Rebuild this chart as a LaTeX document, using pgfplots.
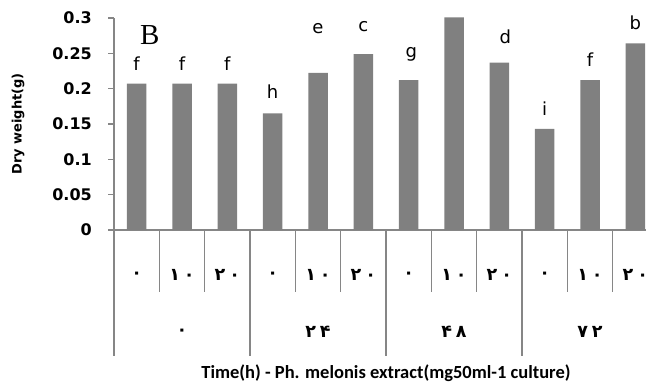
\documentclass[border=0pt]{standalone}
\usepackage{pgfplots}
\pgfplotsset{compat=1.18}
\usepackage{fontspec}
\setmainfont{DejaVu Sans}
\newfontfamily\calib{Carlito}
\newfontfamily\arabicfont[Script=Arabic]{DejaVu Sans}
\newfontfamily\serifB{Liberation Serif}
\definecolor{bargray}{RGB}{128,128,128}
\definecolor{axgray}{RGB}{134,134,134}
\newcommand{\ar}[2]{#1\hspace{4bp}#2}
\begin{document}
\begin{tikzpicture}
\begin{axis}[
  at={(114bp,155bp)}, anchor=south west,
  scale only axis, width=544bp, height=212bp,
  xmin=-0.5, xmax=11.5, ymin=0, ymax=0.3,
  axis lines=left,
  axis line style={-, draw=axgray, line width=1.3bp},
  ytick={0,0.05,0.1,0.15,0.2,0.25,0.3},
  yticklabels={},
  tick align=outside, major tick length=6bp,
  ytick style={draw=axgray, line width=1.3bp},
  xtick={0,1,2,3,4,5,6,7,8,9,10,11},
  xticklabels={۰,\ar{۱}{۰},\ar{۲}{۰},۰,\ar{۱}{۰},\ar{۲}{۰},۰,\ar{۱}{۰},\ar{۲}{۰},۰,\ar{۱}{۰},\ar{۲}{۰}},
  xtick style={draw=none},
  xticklabel style={font=\arabicfont\bfseries\fontsize{17.5bp}{19bp}\selectfont, anchor=center, yshift=-39bp},
  clip=false,
  ybar, bar width=19.5bp,
]
\addplot[fill=bargray, draw=none] coordinates {
(0,0.207) (1,0.207) (2,0.207) (3,0.165) (4,0.2225) (5,0.249)
(6,0.212) (7,0.301) (8,0.237) (9,0.143) (10,0.212) (11,0.264)};

% y tick labels
\begin{scope}[every node/.style={anchor=east, inner sep=0pt, font=\bfseries\fontsize{16bp}{18bp}\selectfont}]
\node at ([xshift=-22bp]axis cs:-0.5,0) {0};
\node at ([xshift=-22bp]axis cs:-0.5,0.05) {0.05};
\node at ([xshift=-22bp]axis cs:-0.5,0.1) {0.1};
\node at ([xshift=-22bp]axis cs:-0.5,0.15) {0.15};
\node at ([xshift=-22bp]axis cs:-0.5,0.2) {0.2};
\node at ([xshift=-22bp]axis cs:-0.5,0.25) {0.25};
\node at ([xshift=-22bp]axis cs:-0.5,0.3) {0.3};
\end{scope}

% dividers below the axis
\draw[axgray, line width=1.3bp] (axis cs:-0.5,0) -- ++(0pt,-126bp);
\draw[axgray, line width=1.3bp] (axis cs:2.5,0) -- ++(0pt,-126bp);
\draw[axgray, line width=1.3bp] (axis cs:5.5,0) -- ++(0pt,-126bp);
\draw[axgray, line width=1.3bp] (axis cs:8.5,0) -- ++(0pt,-126bp);
\draw[axgray, line width=1.3bp] (axis cs:11.5,0) -- ++(0pt,-126bp);
\draw[axgray, line width=1.3bp] (axis cs:0.5,0) -- ++(0pt,-62bp);
\draw[axgray, line width=1.3bp] (axis cs:1.5,0) -- ++(0pt,-62bp);
\draw[axgray, line width=1.3bp] (axis cs:3.5,0) -- ++(0pt,-62bp);
\draw[axgray, line width=1.3bp] (axis cs:4.5,0) -- ++(0pt,-62bp);
\draw[axgray, line width=1.3bp] (axis cs:6.5,0) -- ++(0pt,-62bp);
\draw[axgray, line width=1.3bp] (axis cs:7.5,0) -- ++(0pt,-62bp);
\draw[axgray, line width=1.3bp] (axis cs:9.5,0) -- ++(0pt,-62bp);
\draw[axgray, line width=1.3bp] (axis cs:10.5,0) -- ++(0pt,-62bp);

% group labels
\node[font=\arabicfont\bfseries\fontsize{17.5bp}{19bp}\selectfont] at ([yshift=-102bp]axis cs:1,0) {۰};
\node[font=\arabicfont\bfseries\fontsize{17.5bp}{19bp}\selectfont] at ([yshift=-102bp]axis cs:4,0) {\ar{۲}{۴}};
\node[font=\arabicfont\bfseries\fontsize{17.5bp}{19bp}\selectfont] at ([yshift=-102bp]axis cs:7,0) {\ar{۴}{۸}};
\node[font=\arabicfont\bfseries\fontsize{17.5bp}{19bp}\selectfont] at ([yshift=-102bp]axis cs:10,0) {\ar{۷}{۲}};

% significance letters
\begin{scope}[every node/.style={anchor=base, font=\fontsize{18bp}{20bp}\selectfont, inner sep=0pt}]
\node at (axis cs:0,0.2264) {f};
\node at (axis cs:1,0.2264) {f};
\node at (axis cs:2,0.2264) {f};
\node at (axis cs:3,0.1854) {h};
\node at (axis cs:4,0.2774) {e};
\node at (axis cs:5,0.2802) {c};
\node at (axis cs:6.06,0.2448) {g};
\node at (axis cs:8.13,0.2646) {d};
\node at (axis cs:9,0.1627) {i};
\node at (axis cs:10,0.2307) {f};
\node at (axis cs:11,0.2844) {b};
\end{scope}

\node[anchor=base, inner sep=0pt, font=\serifB\fontsize{29bp}{30bp}\selectfont] at (axis cs:0.29,0.2618) {B};

\node[rotate=90, font=\bfseries\fontsize{13bp}{15bp}\selectfont] at ([xshift=-96bp]rel axis cs:0,0.5) {Dry weight(g)};
\node[font=\calib\bfseries\fontsize{18.5bp}{20bp}\selectfont] at ([yshift=-143bp]rel axis cs:0.5,0) {Time(h) - Ph. melonis extract(mg50ml-1 culture)};
\end{axis}
\pgfresetboundingbox
\path[use as bounding box] (0,0) rectangle (646bp,385bp);
\end{tikzpicture}
\end{document}
